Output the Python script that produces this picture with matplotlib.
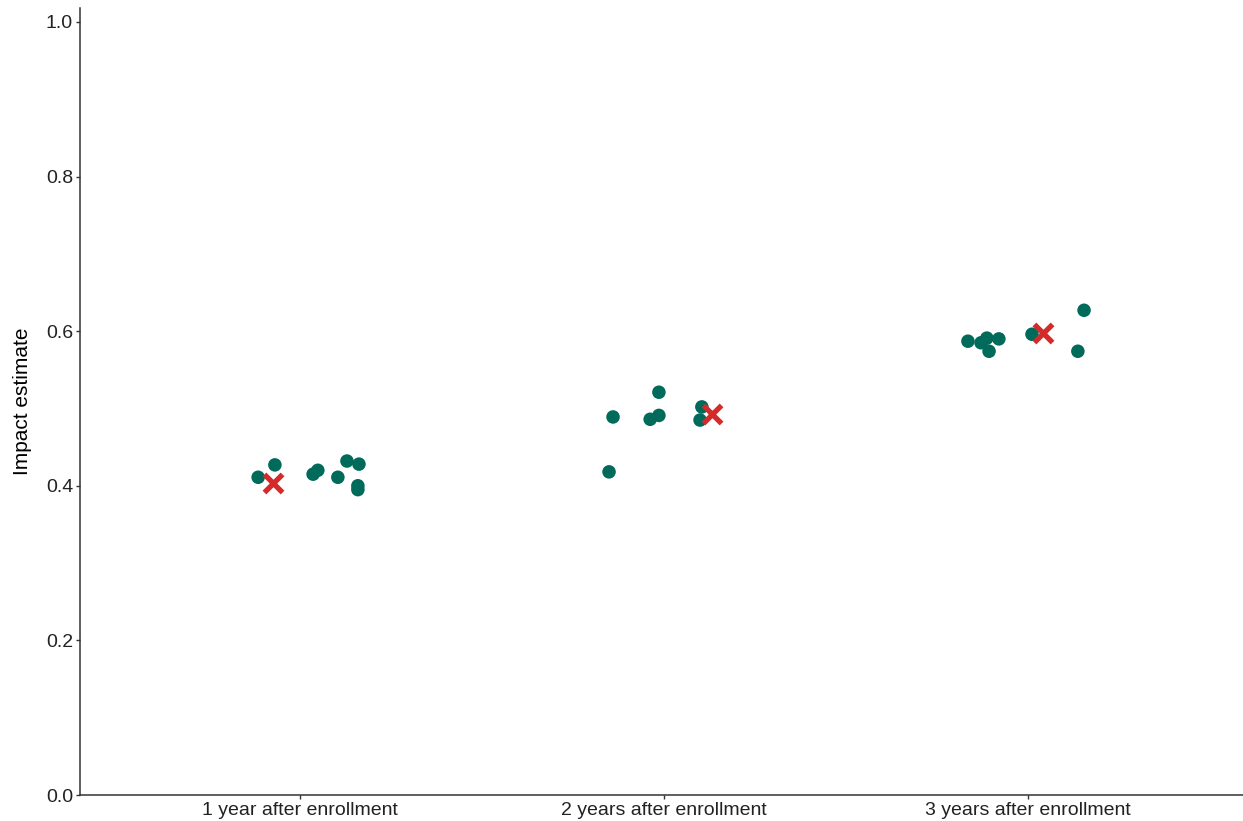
import numpy as np
import matplotlib.pyplot as plt

plt.rcParams['font.family'] = ['Liberation Sans', 'DejaVu Sans']

categories = ["1 year after enrollment", "2 years after enrollment", "3 years after enrollment"]

# jittered x positions (category index 1..3 plus offset) and estimates of the individual dots
dot_x = [0.885, 0.931, 1.036, 1.049, 1.104, 1.129, 1.162, 1.159, 1.159,
         1.849, 1.860, 1.962, 1.986, 1.986, 2.099, 2.104,
         2.835, 2.871, 2.887, 2.893, 2.920, 3.011, 3.137, 3.154]
dot_y = [0.411, 0.427, 0.415, 0.420, 0.411, 0.432, 0.428, 0.400, 0.395,
         0.418, 0.489, 0.486, 0.491, 0.521, 0.485, 0.502,
         0.587, 0.585, 0.591, 0.574, 0.590, 0.596, 0.574, 0.627]

# pooled estimate per period
pooled_x = [0.926, 2.132, 3.041]
pooled_y = [0.403, 0.493, 0.597]

fig = plt.figure(figsize=(12.43, 8.21), dpi=100)
ax = fig.add_axes([80/1243, 26/821, 1163/1243, 787/821])

ax.scatter(dot_x, dot_y, s=95, color="#006b5a", edgecolors="none", zorder=2)
ax.scatter(pooled_x, pooled_y, s=170, marker="x", color="#d42a2a", linewidths=3.8, zorder=3)

# 364 px per category step, first category 220 px right of the y axis
ax.set_xlim(1 - 220/364, 1 + 943/364)
ax.set_ylim(0, 1.018)
ax.set_xticks([1, 2, 3])
ax.set_xticklabels(categories)
ax.set_yticks(np.arange(0, 1.01, 0.2))
ax.set_yticklabels([f"{v:.1f}" for v in np.arange(0, 1.01, 0.2)])
ax.set_ylabel("Impact estimate", fontsize=15, labelpad=10)

for side in ["top", "right"]:
    ax.spines[side].set_visible(False)
for side in ["left", "bottom"]:
    ax.spines[side].set_linewidth(1.1)
    ax.spines[side].set_color("#333333")
ax.tick_params(axis="both", labelsize=14, length=3, width=1, pad=2,
               color="#333333", labelcolor="#222222")

fig.savefig("out.png", dpi=100, facecolor="white")
